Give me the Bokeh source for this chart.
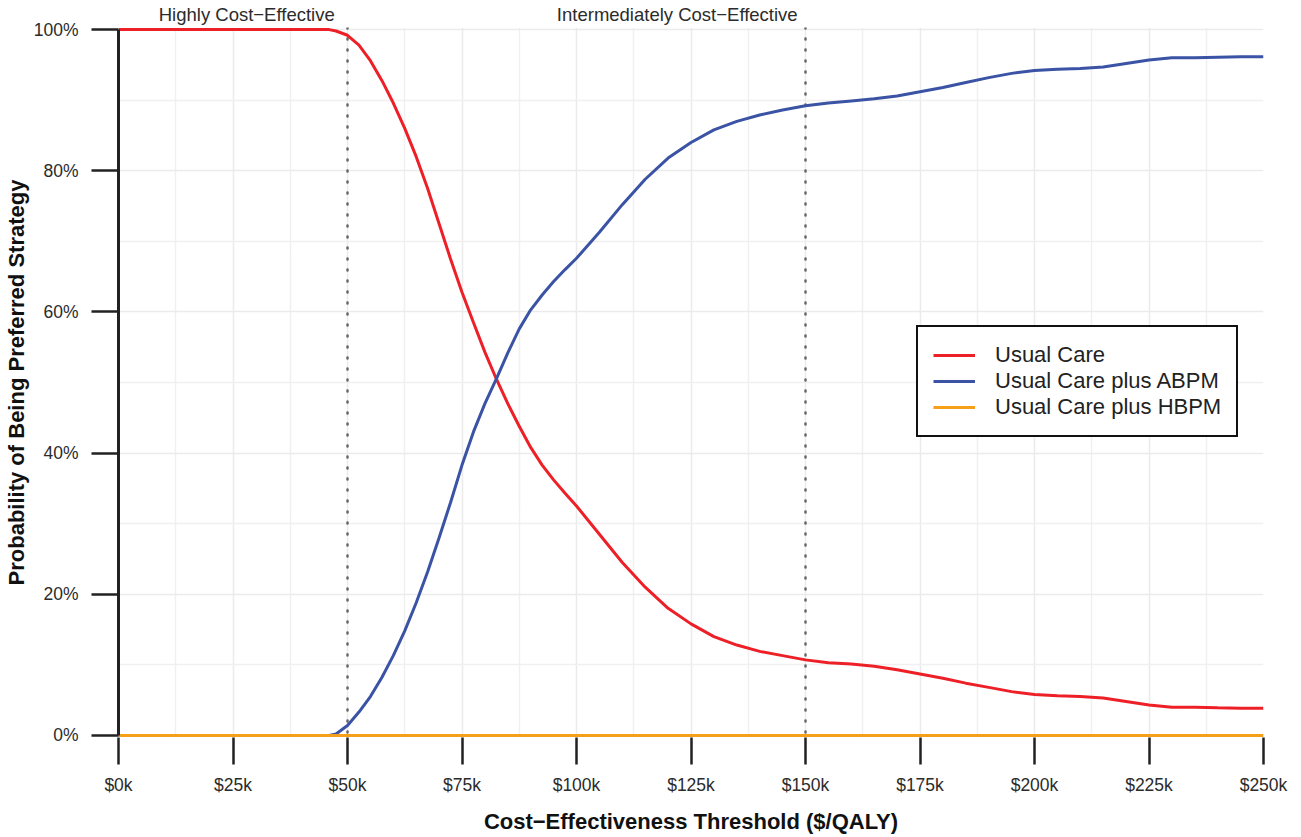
from bokeh.plotting import figure
from bokeh.models import (Span, Legend, LegendItem, FixedTicker, NumeralTickFormatter,
                          PrintfTickFormatter, LinearAxis)
from bokeh.embed import file_html
from bokeh.resources import INLINE

# Threshold in thousands of dollars per QALY
threshold_k = [0, 45, 46, 47.5, 50, 52.5, 55, 57.5, 60, 62.5, 65, 67.5, 70, 72.5, 75, 77.5, 80,
               82.5, 85, 87.5, 90, 92.5, 95, 97.5, 100, 105, 110, 115, 120, 125, 130, 135, 140,
               145, 150, 155, 160, 165, 170, 175, 180, 185, 190, 195, 200, 205, 210, 215, 220,
               225, 230, 235, 240, 245, 250]

usual_care = [100, 100, 100, 99.8, 99.2, 97.8, 95.6, 92.8, 89.6, 86, 82, 77.5, 72.5, 67.5, 62.8,
              58.5, 54.3, 50.5, 47, 43.8, 40.8, 38.3, 36.2, 34.3, 32.5, 28.5, 24.5, 21, 18, 15.8,
              14, 12.8, 11.9, 11.3, 10.7, 10.3, 10.1, 9.8, 9.3, 8.7, 8.1, 7.4, 6.8, 6.2, 5.8, 5.6,
              5.5, 5.3, 4.8, 4.3, 4.0, 4.0, 3.9, 3.85, 3.85]

usual_care_abpm = [0, 0, 0, 0.2, 1.4, 3.3, 5.5, 8.2, 11.3, 14.8, 18.8, 23.2, 28, 33, 38.3, 43,
                   47, 50.5, 54.2, 57.6, 60.3, 62.4, 64.3, 66, 67.6, 71.3, 75.2, 78.8, 81.8, 84,
                   85.8, 87, 87.9, 88.6, 89.2, 89.6, 89.9, 90.2, 90.6, 91.2, 91.8, 92.5, 93.2,
                   93.8, 94.2, 94.4, 94.5, 94.7, 95.2, 95.7, 96.0, 96.0, 96.1, 96.15, 96.15]

usual_care_hbpm = [0] * len(threshold_k)

x_ticks = [0, 25, 50, 75, 100, 125, 150, 175, 200, 225, 250]
y_ticks = [0, 0.2, 0.4, 0.6, 0.8, 1.0]
thresholds = [50, 150]
region_labels = ["Highly Cost\u2212Effective", "Intermediately Cost\u2212Effective"]
region_label_x = [28, 122]

FONT = "Liberation Sans"

p = figure(width=1300, height=836, x_range=(0, 250), y_range=(-0.003, 1.003),
           output_backend="svg", toolbar_location=None,
           min_border_left=118, min_border_right=37, min_border_top=27, min_border_bottom=99)
p.outline_line_color = None
p.background_fill_color = "white"

# grids
p.xaxis.ticker = FixedTicker(ticks=x_ticks, minor_ticks=[12.5 + 25 * i for i in range(10)])
p.yaxis.ticker = FixedTicker(ticks=y_ticks, minor_ticks=[0.1, 0.3, 0.5, 0.7, 0.9])
for g in (p.xgrid, p.ygrid):
    g.grid_line_color = "#ebebeb"
    g.grid_line_width = 1.5
    g.minor_grid_line_color = "#f0f0f0"
    g.minor_grid_line_width = 1.5

# axes
for ax in (p.xaxis, p.yaxis):
    ax.major_tick_out = 27
    ax.major_tick_in = 0
    ax.major_tick_line_width = 2.5
    ax.major_tick_line_color = "#222222"
    ax.minor_tick_line_color = None
    ax.major_label_text_font = FONT
    ax.major_label_text_font_size = "17.5px"
    ax.major_label_text_color = "#2b2b2b"
    ax.axis_label_text_font = FONT
    ax.axis_label_text_font_size = "22px"
    ax.axis_label_text_font_style = "bold"
    ax.axis_label_text_color = "#111111"

p.xaxis.axis_line_color = None
p.xaxis.formatter = PrintfTickFormatter(format="$%dk")
p.xaxis.major_label_standoff = 10
p.xaxis.axis_label = "Cost\u2212Effectiveness Threshold ($/QALY)"
p.xaxis.axis_label_standoff = 11

p.yaxis.axis_line_color = "#222222"
p.yaxis.axis_line_width = 3
p.yaxis.bounds = (0, 1)
p.yaxis.formatter = NumeralTickFormatter(format="0%")
p.yaxis.major_label_standoff = 13
p.yaxis.axis_label = "Probability of Being Preferred Strategy"
p.yaxis.axis_label_standoff = 2

# region labels above the plot
top_axis = LinearAxis(ticker=FixedTicker(ticks=region_label_x),
                      major_label_overrides={x: t for x, t in zip(region_label_x, region_labels)},
                      axis_line_color=None, major_tick_line_color=None, minor_tick_line_color=None,
                      major_tick_out=0, major_tick_in=0, major_label_standoff=3,
                      major_label_text_font=FONT, major_label_text_font_size="18.5px",
                      major_label_text_color="#2b2b2b")
p.add_layout(top_axis, "above")

# threshold lines
for t in thresholds:
    p.add_layout(Span(location=t, dimension="height", line_color="#666666", line_width=2.5,
                      line_dash="1 10", line_cap="round", level="underlay"))

ys = lambda arr: [v / 100 for v in arr]
r1 = p.line(threshold_k, ys(usual_care), line_color="#EE2027", line_width=3)
r2 = p.line(threshold_k, ys(usual_care_abpm), line_color="#3A53A4", line_width=3)
r3 = p.line(threshold_k, ys(usual_care_hbpm), line_color="#F6A01A", line_width=3)

legend = Legend(items=[LegendItem(label="Usual Care", renderers=[r1]),
                       LegendItem(label="Usual Care plus ABPM", renderers=[r2]),
                       LegendItem(label="Usual Care plus HBPM", renderers=[r3])],
                location=(798, 300))
legend.border_line_color = "#111111"
legend.border_line_alpha = 1
legend.border_line_width = 2.5
legend.background_fill_color = "white"
legend.background_fill_alpha = 1
legend.label_text_font = FONT
legend.label_text_font_size = "22px"
legend.label_text_color = "#222222"
legend.glyph_width = 42
legend.glyph_height = 26
legend.label_height = 26
legend.label_standoff = 20
legend.padding = 15
legend.spacing = 0
legend.margin = 0
p.add_layout(legend)

open("out.html", "w").write(file_html(p, INLINE))
